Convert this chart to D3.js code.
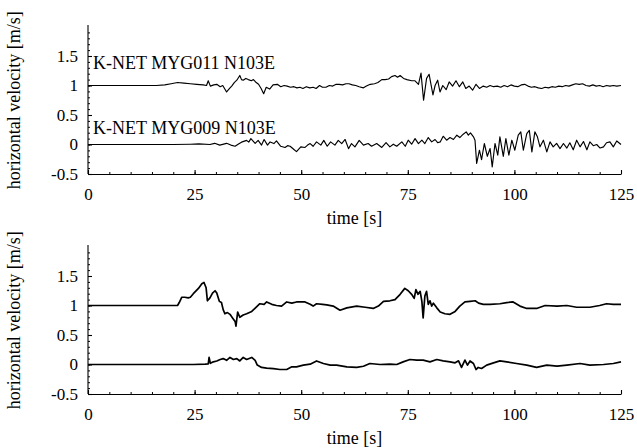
<!DOCTYPE html>
<html>
<head>
<meta charset="utf-8">
<script src="https://cdn.jsdelivr.net/npm/d3@7"></script>
<style>
  body { margin: 0; background: #fff; }
</style>
</head>
<body>
<div id="chart"></div>
<script>
// time [s], velocity [m/s]  (top panel: K-NET records, offset +1 for MYG011)
var myg011 = [[0,1.00],[10,1.00],[16,1.00],[18,1.01],[19.5,1.03],[21,1.05],[22.5,1.04],[24,1.03],[25.5,1.02],[27,1.01],
  [27.8,1.00],[28.2,1.08],[28.7,0.99],[29.5,1.01],[30.2,1.02],[31,0.98],[31.6,1.00],[32.5,0.89],[33.2,0.95],[33.7,0.99],
  [34.3,1.05],[34.9,1.09],[35.6,1.17],[36.0,1.10],[36.4,1.09],[37.0,1.12],[37.6,1.10],[38.3,1.08],[38.8,1.10],[39.3,1.06],
  [40.0,1.02],[40.6,0.95],[41.2,0.86],[41.8,0.97],[42.6,0.94],[43.4,1.01],[44.4,1.02],[45.2,0.98],[46.0,1.00],[46.7,0.99],
  [47.5,0.97],[48.3,0.98],[49.0,0.96],[49.7,0.97],[50.4,0.95],[51.2,0.98],[52.0,0.96],[52.8,0.97],[53.5,0.95],[54.3,1.00],
  [55.0,0.97],[55.8,0.97],[56.6,1.00],[57.4,0.99],[58.2,1.02],[58.9,1.02],[59.7,1.01],[60.5,1.03],[61.2,1.03],[62.0,1.01],
  [62.8,1.00],[63.6,0.98],[64.6,0.96],[65.3,0.99],[66.2,1.02],[67.2,1.03],[68.0,1.05],[68.9,1.10],[69.7,1.10],[70.5,1.11],
  [71.2,1.15],[72.0,1.17],[72.6,1.14],[73.2,1.17],[74.0,1.12],[74.8,1.10],[75.9,1.08],[76.7,1.08],[77.5,1.02],[78.1,1.21],
  [78.7,0.75],[79.4,1.12],[80.0,1.19],[80.9,0.84],[81.4,1.00],[82.0,1.09],[82.55,0.89],[83.2,1.00],[84.0,0.93],[84.7,1.06],
  [85.5,0.99],[86.3,1.08],[87.1,0.98],[87.9,1.06],[88.6,0.95],[89.4,0.99],[90.2,0.92],[91.0,1.02],[91.8,0.95],[92.7,0.99],
  [93.5,0.97],[94.3,1.00],[95.1,0.98],[96.0,0.99],[96.8,0.97],[97.6,1.00],[98.4,0.98],[99.2,1.01],[100.0,0.99],[100.8,0.98],
  [101.6,1.01],[102.4,1.02],[103.2,0.99],[104.0,0.97],[104.8,0.98],[105.6,0.96],[106.4,0.95],[107.2,0.97],[108.0,0.96],
  [108.8,0.98],[109.6,0.97],[110.4,0.99],[111.2,0.98],[112.0,1.00],[112.8,0.99],[113.6,1.01],[114.4,1.03],[115.2,1.02],
  [116.0,1.03],[116.8,1.00],[117.6,0.99],[118.4,1.01],[119.2,0.99],[120.0,1.00],[120.8,0.98],[121.6,1.00],[122.4,0.99],
  [123.2,1.00],[124.0,0.99],[125,1.00]];

var myg009 = [[0,0],[20,0],[24,0.005],[26,0.01],[28.6,0.0],[29.7,0.02],[30.9,-0.01],[32.5,0.02],[33.5,-0.01],[34.5,-0.03],
  [35.3,0.01],[36.0,0.04],[37.2,0.07],[37.7,0.04],[38.2,0.10],[39.2,0.02],[39.9,0.07],[40.7,-0.01],[41.3,0.085],[42.1,-0.01],
  [42.7,0.044],[43.6,0.016],[44.2,0.06],[45.2,-0.03],[46.2,-0.05],[46.8,-0.02],[47.4,-0.03],[48.3,-0.085],[48.9,-0.12],
  [49.9,-0.04],[50.9,-0.05],[51.5,-0.01],[52.1,0.016],[52.8,-0.03],[53.6,0.044],[54.6,-0.01],[55.3,0.07],[56.1,-0.03],
  [56.9,0.044],[57.9,-0.01],[58.7,0.07],[59.5,0.016],[60.3,0.085],[61.1,-0.07],[61.8,0.016],[62.6,-0.04],[63.6,0.07],
  [64.6,-0.01],[65.7,0.016],[66.5,-0.03],[67.7,0.016],[68.9,-0.05],[69.9,0.03],[70.8,-0.04],[71.6,0.005],[72.4,-0.03],
  [73.6,0.044],[74.4,-0.03],[75.1,0.073],[75.9,0.005],[76.7,0.10],[77.5,0.016],[78.3,0.073],[79.0,0.016],[79.8,0.118],
  [80.6,0.044],[81.4,0.085],[82.0,0.03],[82.6,0.044],[83.3,0.14],[84.1,0.073],[84.9,0.118],[85.7,0.085],[86.5,0.158],
  [87.2,0.118],[88.0,0.175],[88.7,0.214],[89.2,0.158],[89.7,0.197],[90.4,0.13],[90.76,0.073],[91.15,-0.32],[91.8,-0.097],
  [92.3,-0.256],[92.95,0.017],[93.65,-0.2],[94.3,-0.068],[94.8,-0.38],[95.45,0.017],[96.1,-0.18],[96.6,0.13],[97.4,-0.2],
  [98.0,0.1],[98.7,-0.18],[99.4,0.073],[100.1,-0.097],[100.9,0.158],[101.5,0.214],[102.1,-0.097],[102.9,0.186],[103.5,0.24],
  [104.1,-0.125],[104.8,0.214],[105.4,0.13],[106.0,-0.04],[106.8,0.073],[107.6,-0.125],[108.35,0.045],[109.1,-0.04],
  [109.9,0.02],[110.7,-0.07],[111.5,0.017],[112.3,-0.06],[113.0,0.03],[113.8,-0.09],[114.6,0.073],[115.4,-0.04],[116.2,0.05],
  [117.0,-0.09],[117.7,0.045],[118.5,-0.02],[119.3,0.0],[120.1,-0.06],[120.9,-0.04],[121.6,0.03],[122.4,0.045],[123.2,-0.04],
  [124.0,0.06],[125,0.0]];

// bottom panel traces (upper one offset +1)
var lowerPanelTop = [[0,1.0],[21.0,1.0],[21.4,1.05],[22.0,1.14],[22.7,1.14],[23.5,1.13],[24.0,1.14],[24.7,1.20],[25.9,1.29],
  [26.7,1.37],[27.2,1.39],[27.7,1.30],[28.0,1.08],[28.6,1.13],[29.2,1.21],[29.8,1.25],[30.2,1.21],[30.8,1.07],[31.3,1.05],
  [31.7,0.93],[32.1,0.86],[32.7,0.88],[33.3,0.85],[33.9,0.79],[34.5,0.73],[34.7,0.65],[35.1,0.89],[35.6,0.80],[36.4,0.84],
  [37.2,0.86],[38.4,0.90],[39.4,0.97],[40.3,1.03],[41.3,1.02],[41.9,1.06],[43.1,1.02],[44.2,1.00],[45.4,0.99],[46.6,1.06],
  [47.8,1.04],[48.9,1.06],[50.9,1.06],[52.1,1.02],[52.8,0.99],[53.6,1.03],[55.0,1.02],[56.0,1.01],[57.5,0.99],[59.1,0.92],
  [60.7,0.96],[63.0,0.99],[65.0,0.97],[66.9,0.95],[68.1,0.99],[69.3,1.07],[70.8,1.08],[72.0,1.10],[73.2,1.19],[74.3,1.29],
  [75.1,1.25],[75.9,1.19],[76.5,1.12],[76.9,1.27],[77.4,1.19],[77.9,1.24],[78.3,1.07],[78.6,0.79],[79.0,1.16],[79.4,1.24],
  [79.8,1.02],[80.2,1.08],[80.6,0.99],[81.0,1.04],[81.8,0.96],[82.6,0.89],[83.7,0.86],[84.9,0.85],[86.1,0.90],[87.2,0.99],
  [88.4,1.06],[89.6,1.07],[90.8,1.08],[91.6,1.04],[92.7,1.02],[94.3,1.02],[96.6,1.03],[98.2,1.05],[99.7,1.06],[101.3,0.99],
  [102.9,0.95],[105.2,0.95],[107.2,1.00],[110.0,0.99],[112.3,1.00],[114.6,0.97],[117.7,0.97],[120.0,1.00],[121.6,1.03],
  [123.2,1.02],[125,1.02]];

var lowerPanelBottom = [[0,0],[24.7,0],[27.5,0.005],[28.2,0.01],[28.4,0.12],[28.7,0.02],[29.4,0.045],[30.2,0.06],[31.0,0.085],
  [31.7,0.10],[32.5,0.07],[33.3,0.12],[34.1,0.085],[34.9,0.10],[35.6,0.06],[36.4,0.12],[37.2,0.085],[38.4,0.12],[39.2,0.07],
  [39.7,-0.01],[40.7,-0.05],[41.9,-0.06],[43.5,-0.07],[45.0,-0.085],[46.6,-0.085],[47.8,-0.04],[48.9,-0.04],[50.5,-0.01],
  [52.1,0.005],[53.6,0.06],[55.2,0.017],[56.8,-0.01],[58.3,-0.01],[60.7,-0.04],[63.0,-0.05],[64.6,-0.03],[66.1,0.017],
  [68.5,0.0],[70.8,0.005],[72.4,0.0],[73.9,0.045],[75.5,0.085],[77.1,0.074],[78.6,0.074],[80.2,0.045],[81.8,0.085],
  [83.3,0.062],[84.9,0.045],[86.1,0.028],[86.9,0.062],[87.6,-0.05],[88.4,0.074],[89.0,-0.01],[89.6,0.06],[90.4,0.017],
  [91.0,-0.085],[91.5,-0.05],[92.3,-0.068],[93.5,-0.01],[95.1,0.028],[96.6,0.062],[98.2,0.045],[100.5,0.017],[102.9,-0.01],
  [105.2,-0.05],[107.6,-0.01],[110.0,-0.028],[112.3,-0.01],[115.4,0.017],[117.7,-0.01],[120.9,0.0],[123.2,0.017],[125,0.045]];

var seriesLabels = ["K-NET MYG011 N103E", "K-NET MYG009 N103E"];
var xTicks = [0, 25, 50, 75, 100, 125];
var yTicks = [-0.5, 0, 0.5, 1, 1.5];

var serif = "'Liberation Serif', 'Times New Roman', serif";
var width = 637, height = 448;
var margin = {left: 88, right: 16};
var plotH = 147.5;

var svg = d3.select("#chart").append("svg")
  .attr("width", width)
  .attr("height", height)
  .style("font-family", serif);

var x = d3.scaleLinear().domain([0, 125]).range([margin.left, width - margin.right]);

var panels = [
  {top: 26.5, series: [myg011, myg009], labels: seriesLabels, lw: 1.15},
  {top: 246.5, series: [lowerPanelTop, lowerPanelBottom], labels: [], lw: 1.7}
];

panels.forEach(function(p) {
  var y = d3.scaleLinear().domain([-0.5, 2]).range([p.top + plotH, p.top]);
  var g = svg.append("g");

  // minor ticks
  g.append("g")
    .attr("transform", "translate(0," + y(-0.5) + ")")
    .call(d3.axisBottom(x).tickValues(d3.range(0, 126, 5)).tickSize(-2).tickSizeOuter(0).tickFormat(""))
    .call(function(a){ a.select(".domain").remove(); });
  g.append("g")
    .attr("transform", "translate(" + margin.left + ",0)")
    .call(d3.axisLeft(y).tickValues(d3.range(-5, 20).map(function(d){ return d / 10; })).tickSize(-2).tickSizeOuter(0).tickFormat(""))
    .call(function(a){ a.select(".domain").remove(); });

  // major axes
  var xa = g.append("g")
    .attr("transform", "translate(0," + y(-0.5) + ")")
    .call(d3.axisBottom(x).tickValues(xTicks).tickSize(-4).tickSizeOuter(0).tickPadding(14).tickFormat(d3.format("d")));
  var ya = g.append("g")
    .attr("transform", "translate(" + margin.left + ",0)")
    .call(d3.axisLeft(y).tickValues(yTicks).tickSize(-4).tickSizeOuter(0).tickPadding(10).tickFormat(function(d){ return String(d); }));
  ya.select(".domain").attr("d", "M0," + y(-0.5) + "V" + (p.top - 1.5));

  [xa, ya].forEach(function(a) {
    a.attr("font-family", null).attr("font-size", null);
    a.selectAll("text").style("font-family", serif).style("font-size", "17px");
    a.selectAll("line, path").attr("stroke", "#000").attr("stroke-width", 1.1);
  });

  // traces
  var line = d3.line()
    .x(function(d){ return x(d[0]); })
    .y(function(d){ return y(d[1]); });

  p.series.forEach(function(s) {
    g.append("path")
      .datum(s)
      .attr("d", line)
      .attr("fill", "none")
      .attr("stroke", "#000")
      .attr("stroke-width", p.lw)
      .attr("stroke-linejoin", "round");
  });

  p.labels.forEach(function(t, i) {
    g.append("text")
      .attr("x", margin.left + 5)
      .attr("y", y(i == 0 ? 1.28 : 0.18))
      .style("font-family", serif)
      .style("font-size", "18px")
      .text(t);
  });

  // axis titles
  g.append("text")
    .attr("x", (x(0) + x(125)) / 2)
    .attr("y", y(-0.5) + 50)
    .attr("text-anchor", "middle")
    .style("font-family", serif)
    .style("font-size", "18px")
    .text("time [s]");
  g.append("text")
    .attr("transform", "translate(20," + (p.top + plotH / 2) + ") rotate(-90)")
    .attr("text-anchor", "middle")
    .style("font-family", serif)
    .style("font-size", "18px")
    .text("horizontal velocity [m/s]");
});
</script>
</body>
</html>
